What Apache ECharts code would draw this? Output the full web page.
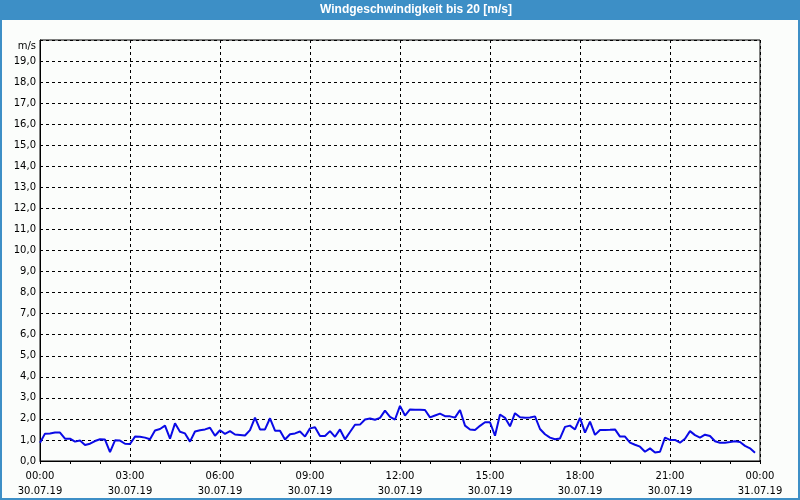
<!DOCTYPE html>
<html>
<head>
<meta charset="utf-8">
<script src="https://cdn.jsdelivr.net/npm/echarts@6/dist/echarts.min.js"></script>
<style>
html,body{margin:0;padding:0;background:#fbfdfb;}
#chart{width:800px;height:500px;}
</style>
</head>
<body>
<div id="chart"></div>
<script>
// Wind speed [m/s], 10-minute steps from 30.07.19 00:00
var windSpeed = [
  0.87,1.3,1.31,1.35,1.35,1.06,1.06,0.92,0.97,0.76,0.82,0.95,1.03,1.02,0.42,0.98,0.97,0.82,0.81,1.16,1.15,1.11,1.03,1.45,1.52,
  1.68,1.06,1.79,1.39,1.31,0.92,1.4,1.46,1.5,1.58,1.2,1.46,1.29,1.42,1.26,1.24,1.21,1.47,2.06,1.5,1.5,2.03,1.44,1.44,
  1.02,1.27,1.31,1.4,1.16,1.55,1.6,1.19,1.19,1.42,1.15,1.5,1.03,1.38,1.72,1.73,1.97,2.02,1.96,2.05,2.39,2.1,1.97,2.62,
  2.16,2.45,2.44,2.43,2.42,2.07,2.16,2.25,2.13,2.12,2.06,2.42,1.68,1.5,1.47,1.67,1.84,1.84,1.2,2.21,2.05,1.65,2.27,2.08,
  2.05,2.07,2.12,1.52,1.27,1.11,1.03,1.07,1.62,1.68,1.5,2.05,1.35,1.87,1.24,1.47,1.47,1.48,1.5,1.16,1.16,0.87,0.77,0.68,
  0.44,0.6,0.4,0.44,1.11,1.0,1.0,0.87,1.06,1.42,1.23,1.11,1.25,1.19,0.94,0.87,0.87,0.9,0.94,0.9,0.72,0.6,0.39
];
var stepMinutes = 10;
var xTickLabels = [
  "00:00\n30.07.19","03:00\n30.07.19","06:00\n30.07.19","09:00\n30.07.19","12:00\n30.07.19",
  "15:00\n30.07.19","18:00\n30.07.19","21:00\n30.07.19","00:00\n31.07.19"
];
var titleText = "Windgeschwindigkeit bis 20 [m/s]";
var unitText = "m/s";

var seriesData = windSpeed.map(function(v, i){ return [i * stepMinutes, v]; });

var chart = echarts.init(document.getElementById('chart'), null, {renderer:'canvas'});
var font = 'DejaVu Sans';
chart.setOption({
  animation:false,
  backgroundColor:'#fbfdfb',
  grid:{left:40, right:40, top:40, bottom:39, show:true, borderColor:'#000', borderWidth:1, backgroundColor:'transparent'},
  xAxis:{
    type:'value', min:0, max:1440, interval:180,
    axisLine:{show:true, lineStyle:{color:'#000', width:1}},
    axisTick:{show:true, length:3, lineStyle:{color:'#000'}},
    minorTick:{show:true, splitNumber:3, length:3, lineStyle:{color:'#000'}},
    splitLine:{show:true, lineStyle:{color:'#000', type:[3,3], width:1}},
    axisLabel:{
      color:'#000', fontFamily:font, fontSize:10, lineHeight:15, margin:8,
      showMinLabel:true, showMaxLabel:true,
      formatter:function(v){ return xTickLabels[Math.round(v/180)] || ''; }
    }
  },
  yAxis:{
    type:'value', min:0, max:20, interval:1,
    axisLine:{show:true, lineStyle:{color:'#000', width:1}},
    axisTick:{show:false},
    splitLine:{show:true, lineStyle:{color:'#000', type:[3,3], width:1}},
    axisLabel:{
      color:'#000', fontFamily:font, fontSize:10, margin:4,
      formatter:function(v){ return v >= 20 ? '' : v.toFixed(1).replace('.', ','); }
    }
  },
  series:[{
    type:'line', data:seriesData, showSymbol:false, symbol:'none',
    lineStyle:{color:'#0a0ae6', width:2}, z:5
  }],
  graphic:[
    {type:'rect', left:0, top:0, shape:{width:800, height:20}, style:{fill:'#3d8fc6'}},
    {type:'rect', left:0, top:0, shape:{width:2, height:500}, style:{fill:'#3d8fc6'}},
    {type:'rect', left:798, top:0, shape:{width:2, height:500}, style:{fill:'#3d8fc6'}},
    {type:'rect', left:0, top:498, shape:{width:800, height:2}, style:{fill:'#3d8fc6'}},
    {type:'text', x:320, y:10, style:{text:titleText, fill:'#fff', font:'bold 12px "Liberation Sans"', textVerticalAlign:'middle', textAlign:'left'}},
    {type:'text', x:36, y:46, style:{text:unitText, fill:'#000', font:'10px "DejaVu Sans"', textVerticalAlign:'middle', textAlign:'right'}}
  ]
});
</script>
</body>
</html>
